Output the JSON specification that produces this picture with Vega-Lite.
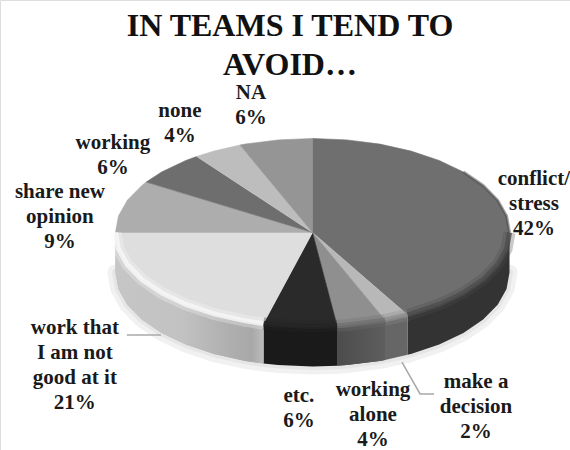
{
"$schema":"https://vega.github.io/schema/vega-lite/v6.json",
"width":570,"height":450,"padding":0,"autosize":"none","background":"white",
"title":{"text":["IN TEAMS I TEND TO","AVOID…"],"font":"Liberation Serif","fontSize":32,"fontWeight":"bold","color":"#111111","lineHeight":39,"anchor":"middle","baseline":"top","offset":-82,"dx":5},
"datasets":{
"outline":[
{"s":"conflict","i":0,"x":0,"y":0},{"s":"conflict","i":1,"x":0,"y":1},{"s":"conflict","i":2,"x":0.174,"y":0.985},{"s":"conflict","i":3,"x":0.342,"y":0.94},{"s":"conflict","i":4,"x":0.5,"y":0.866},{"s":"conflict","i":5,"x":0.643,"y":0.766},{"s":"conflict","i":6,"x":0.766,"y":0.643},{"s":"conflict","i":7,"x":0.866,"y":0.5},{"s":"conflict","i":8,"x":0.94,"y":0.342},{"s":"conflict","i":9,"x":0.985,"y":0.174},
{"s":"conflict","i":10,"x":1,"y":0,"base":-0.426},{"s":"conflict","i":11,"x":0.985,"y":-0.174,"base":-0.6},{"s":"conflict","i":12,"x":0.94,"y":-0.342,"base":-0.768},{"s":"conflict","i":13,"x":0.866,"y":-0.5,"base":-0.926},{"s":"conflict","i":14,"x":0.766,"y":-0.643,"base":-1.069},{"s":"conflict","i":15,"x":0.643,"y":-0.766,"base":-1.192},{"s":"conflict","i":16,"x":0.5,"y":-0.866,"base":-1.292},{"s":"conflict","i":17,"x":0.482,"y":-0.876,"base":-1.302},
{"s":"decision","i":0,"x":0,"y":0},{"s":"decision","i":1,"x":0.482,"y":-0.876,"base":-1.302},{"s":"decision","i":2,"x":0.368,"y":-0.93,"base":-1.356},
{"s":"alone","i":0,"x":0,"y":0},{"s":"alone","i":1,"x":0.368,"y":-0.93,"base":-1.356},{"s":"alone","i":2,"x":0.342,"y":-0.94,"base":-1.366},{"s":"alone","i":3,"x":0.174,"y":-0.985,"base":-1.411},{"s":"alone","i":4,"x":0.125,"y":-0.992,"base":-1.418},
{"s":"etc","i":0,"x":0,"y":0},{"s":"etc","i":1,"x":0.125,"y":-0.992,"base":-1.418},{"s":"etc","i":2,"x":0,"y":-1,"base":-1.426},{"s":"etc","i":3,"x":-0.174,"y":-0.985,"base":-1.411},{"s":"etc","i":4,"x":-0.249,"y":-0.969,"base":-1.395},
{"s":"work","i":0,"x":0,"y":0},{"s":"work","i":1,"x":-0.249,"y":-0.969,"base":-1.395},{"s":"work","i":2,"x":-0.342,"y":-0.94,"base":-1.366},{"s":"work","i":3,"x":-0.5,"y":-0.866,"base":-1.292},{"s":"work","i":4,"x":-0.643,"y":-0.766,"base":-1.192},{"s":"work","i":5,"x":-0.766,"y":-0.643,"base":-1.069},{"s":"work","i":6,"x":-0.866,"y":-0.5,"base":-0.926},{"s":"work","i":7,"x":-0.94,"y":-0.342,"base":-0.768},{"s":"work","i":8,"x":-0.985,"y":-0.174,"base":-0.6},{"s":"work","i":9,"x":-1,"y":0,"base":-0.426},
{"s":"share","i":0,"x":0,"y":0},{"s":"share","i":1,"x":-1,"y":0},{"s":"share","i":2,"x":-0.985,"y":0.174},{"s":"share","i":3,"x":-0.94,"y":0.342},{"s":"share","i":4,"x":-0.866,"y":0.5},{"s":"share","i":5,"x":-0.844,"y":0.536},
{"s":"working","i":0,"x":0,"y":0},{"s":"working","i":1,"x":-0.844,"y":0.536},{"s":"working","i":2,"x":-0.766,"y":0.643},{"s":"working","i":3,"x":-0.643,"y":0.766},{"s":"working","i":4,"x":-0.588,"y":0.809},
{"s":"none","i":0,"x":0,"y":0},{"s":"none","i":1,"x":-0.588,"y":0.809},{"s":"none","i":2,"x":-0.5,"y":0.866},{"s":"none","i":3,"x":-0.368,"y":0.93},
{"s":"na","i":0,"x":0,"y":0},{"s":"na","i":1,"x":-0.368,"y":0.93},{"s":"na","i":2,"x":-0.342,"y":0.94},{"s":"na","i":3,"x":-0.174,"y":0.985},{"s":"na","i":4,"x":0,"y":1}
],
"labels":[
{"s":"conflict","value":42,"text":"conflict/\nstress\n42%","x":1.124,"y":0.569},
{"s":"decision","value":2,"text":"make a\ndecision\n2%","x":0.83,"y":-1.59},
{"s":"alone","value":4,"text":"working\nalone\n4%","x":0.307,"y":-1.675},
{"s":"etc","value":6,"text":"etc.\n6%","x":-0.069,"y":-1.739},
{"s":"work","value":21,"text":"work that\nI am not\ngood at it\n21%","x":-1.206,"y":-1.016},
{"s":"share","value":9,"text":"share new\nopinion\n9%","x":-1.282,"y":0.431},
{"s":"working","value":6,"text":"working\n6%","x":-1.013,"y":0.952},
{"s":"none","value":4,"text":"none\n4%","x":-0.673,"y":1.293},
{"s":"na","value":6,"text":"NA\n6%","x":-0.312,"y":1.484}
],
"leaders":[
{"s":"work","i":0,"x":-0.942,"y":-1.09},{"s":"work","i":1,"x":-0.769,"y":-1.09},
{"s":"decision","i":0,"x":0.454,"y":-1.378},{"s":"decision","i":1,"x":0.546,"y":-1.718},{"s":"decision","i":2,"x":0.617,"y":-1.718}
]
},
"data":{"name":"outline"},
"encoding":{
"x":{"field":"x","type":"quantitative","axis":null,"scale":{"domain":[-1.586,1.307],"nice":false,"zero":false}},
"y":{"field":"y","type":"quantitative","axis":null,"scale":{"domain":[-2.314,2.473],"nice":false,"zero":false}}
},
"layer":[
{"transform":[{"filter":"datum.base != null"}],
 "mark":{"type":"line","stroke":"#f1f1f1","strokeWidth":16,"strokeCap":"round"},
 "encoding":{"y":{"field":"base","type":"quantitative"}}},
{"transform":[{"filter":"datum.base != null"}],
 "mark":{"type":"line","stroke":"#e6e6e6","strokeWidth":7,"strokeCap":"round"},
 "encoding":{"y":{"field":"base","type":"quantitative"}}},
{"transform":[{"filter":"datum.base != null"}],
 "mark":{"type":"area"},
 "encoding":{"y2":{"field":"base"},
  "color":{"field":"s","type":"nominal","legend":null,"scale":{"domain":["conflict","decision","alone","etc","work"],"range":["#333333","#666666","#565656","#1a1a1a","#b4b4b4"]}}}},
{"transform":[{"filter":"datum.s == 'work' && datum.base != null"}],
 "mark":{"type":"area","color":{"gradient":"linear","x1":0,"x2":1,"y1":0,"y2":0,"stops":[{"offset":0,"color":"#c6c6c6"},{"offset":0.45,"color":"#c2c2c2"},{"offset":0.75,"color":"#b0b0b0"},{"offset":0.92,"color":"#a8a8a8"},{"offset":1,"color":"#bcbcbc"}]}},
 "encoding":{"y2":{"field":"base"}}},
{"transform":[{"filter":"datum.s == 'alone' && datum.base != null"}],
 "mark":{"type":"area","color":{"gradient":"linear","x1":0,"x2":1,"y1":0,"y2":0,"stops":[{"offset":0,"color":"#4c4c4c"},{"offset":1,"color":"#5e5e5e"}]}},
 "encoding":{"y2":{"field":"base"}}},
{"mark":{"type":"line","strokeWidth":0.6},
 "encoding":{"order":{"field":"i","type":"quantitative"},
  "fill":{"field":"s","type":"nominal","legend":null,"scale":{"domain":["conflict","decision","alone","etc","work","share","working","none","na"],"range":["#6f6f6f","#b8b8b8","#8f8f8f","#2a2a2a","#dedede","#adadad","#6e6e6e","#bdbdbd","#959595"]}},
  "stroke":{"field":"s","type":"nominal","legend":null,"scale":{"domain":["conflict","decision","alone","etc","work","share","working","none","na"],"range":["#6f6f6f","#b8b8b8","#8f8f8f","#2a2a2a","#dedede","#adadad","#6e6e6e","#bdbdbd","#959595"]}}}},
{"transform":[{"filter":"datum.s == 'conflict' && datum.i >= 6 && datum.i <= 10"}],
 "mark":{"type":"line","stroke":"#4c4c4c","strokeWidth":3,"opacity":0.5},
 "encoding":{"order":{"field":"i","type":"quantitative"}}},
{"transform":[{"filter":"datum.base != null"}],
 "mark":{"type":"line","strokeWidth":12,"opacity":0.3},
 "encoding":{
  "color":{"field":"s","type":"nominal","legend":null,"scale":{"domain":["conflict","decision","alone","etc","work"],"range":["#4c4c4c","#8c8c8c","#707070","#242424","#f8f8f8"]}}}},
{"transform":[{"filter":"datum.base != null"}],
 "mark":{"type":"line","strokeWidth":5,"opacity":0.8},
 "encoding":{
  "color":{"field":"s","type":"nominal","legend":null,"scale":{"domain":["conflict","decision","alone","etc","work"],"range":["#4c4c4c","#8c8c8c","#707070","#242424","#f8f8f8"]}}}},
{"data":{"name":"leaders"},
 "mark":{"type":"line","stroke":"#a8a8a8","strokeWidth":1.5},
 "encoding":{"detail":{"field":"s"},"order":{"field":"i","type":"quantitative"}}},
{"data":{"name":"labels"},
 "mark":{"type":"text","font":"Liberation Serif","fontWeight":"bold","fontSize":21,"lineHeight":25,"lineBreak":"\n","align":"center","baseline":"middle","color":"#1a1a1a"},
 "encoding":{"text":{"field":"text"}}}
],
"resolve":{"scale":{"color":"independent"}}
}
